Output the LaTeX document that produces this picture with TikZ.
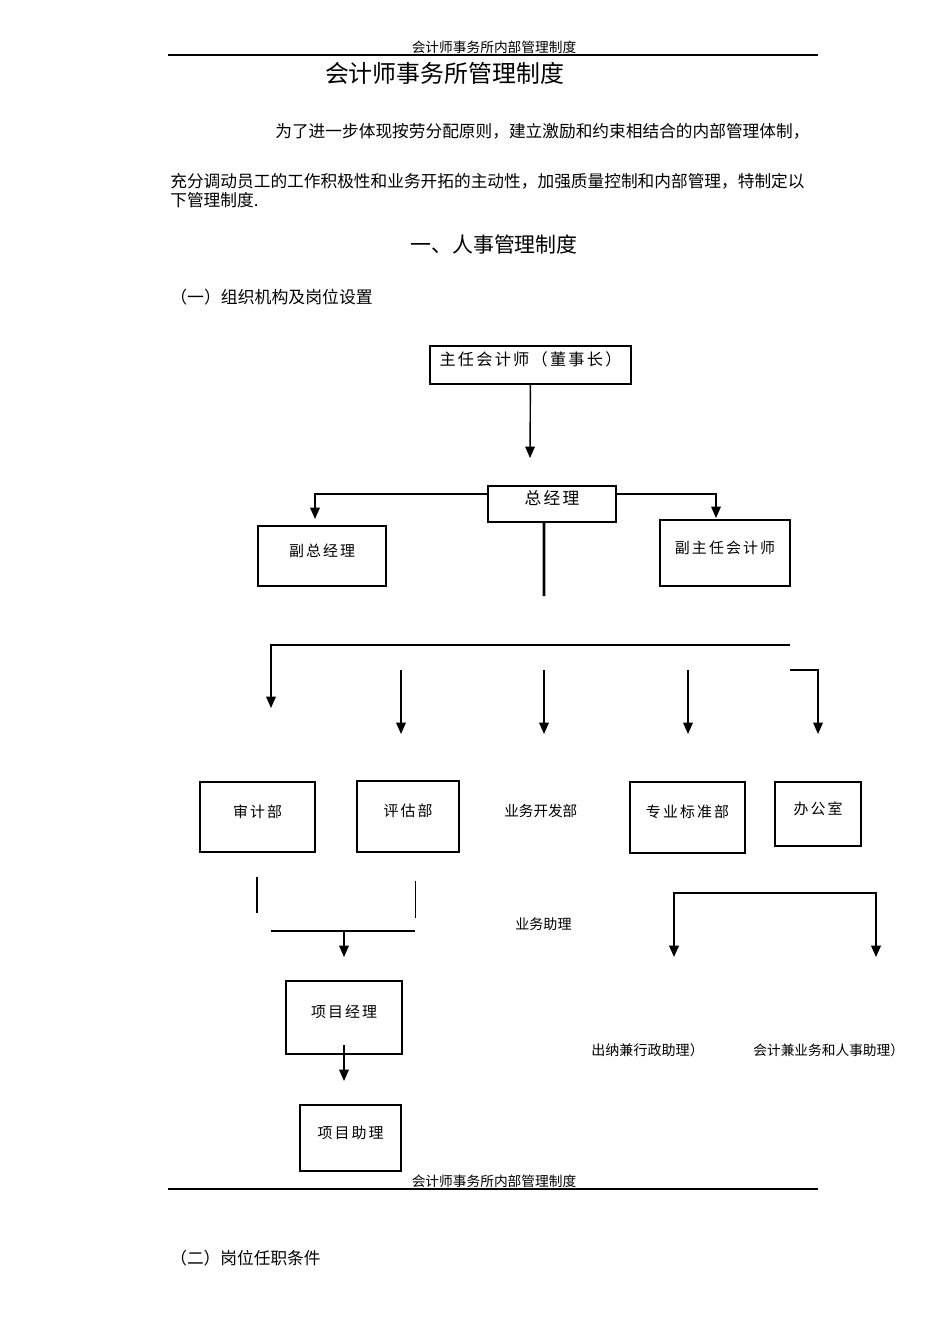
\documentclass[tikz,border=0pt]{standalone}
\usepackage{fontspec}
\setmainfont{Noto Sans CJK SC}
\newfontfamily\cjk{Noto Sans CJK SC}
\newfontfamily\cjkwide[LetterSpace=14]{Noto Sans CJK SC}
\usetikzlibrary{arrows.meta}

\begin{document}
\begin{tikzpicture}[x=0.02cm,y=-0.02cm,
  orgbox/.style={draw,line width=0.8pt,inner sep=0pt,font=\cjkwide\fontsize{8.5}{10}\selectfont,text depth=7pt},
  arr/.style={-{Triangle[length=6.5pt,width=5.5pt]},line width=0.8pt},
  arrtwo/.style={{Triangle[length=6.5pt,width=5.5pt]}-{Triangle[length=6.5pt,width=5.5pt]},line width=1.1pt},
  plain/.style={font=\cjk\fontsize{8}{10}\selectfont,inner sep=0pt,anchor=west},
  body/.style={font=\cjk\fontsize{9.5}{11}\selectfont,inner sep=0pt,anchor=west},
  rule/.style={line width=0.6pt}]
\useasboundingbox (0,0) rectangle (950,1344);
\fill[white] (0,0) rectangle (950,1344);
% page header
\node[font=\cjk\fontsize{7.8}{9}\selectfont,inner sep=0pt] (headT) at (494,47) {会计师事务所内部管理制度};
\coordinate (headL) at (168,55); \coordinate (headR) at (818,55);
\draw[rule] (headL) -- (headR);
% title and text
\node[font=\cjk\fontsize{13.6}{15}\selectfont,inner sep=0pt] (title) at (444.5,73) {会计师事务所管理制度};
\node[body] (par1) at (275,131) {为了进一步体现按劳分配原则，建立激励和约束相结合的内部管理体制，};
\node[body] (par2) at (170,181) {充分调动员工的工作积极性和业务开拓的主动性，加强质量控制和内部管理，特制定以};
\node[body] (par3) at (170,200) {下管理制度.};
\node[font=\cjk\fontsize{11.9}{13}\selectfont,inner sep=0pt] (sec1) at (494,245) {一、人事管理制度};
\node[body,font=\cjk\fontsize{9.6}{11}\selectfont] (sub1) at (170,297) {（一）组织机构及岗位设置};
% chart boxes
\node[orgbox,minimum width=4.02cm,minimum height=0.76cm,font=\cjkwide\fontsize{9.2}{10}\selectfont] (chief) at (530.5,365) {主任会计师（董事长）};
\node[orgbox,minimum width=2.56cm,minimum height=0.72cm,font=\cjkwide\fontsize{9.5}{10}\selectfont] (gm) at (552,504) {总经理};
\node[orgbox,minimum width=2.56cm,minimum height=1.2cm] (dgm) at (322,556) {副总经理};
\node[orgbox,minimum width=2.6cm,minimum height=1.32cm] (dca) at (725,553) {副主任会计师};
\node[orgbox,minimum width=2.3cm,minimum height=1.4cm] (audit) at (257.5,817) {审计部};
\node[orgbox,minimum width=2.04cm,minimum height=1.42cm] (evalu) at (408,816.5) {评估部};
\node[plain,font=\cjk\fontsize{8.3}{10}\selectfont] (bizdev) at (504,811) {业务开发部};
\node[orgbox,minimum width=2.3cm,minimum height=1.42cm] (stdd) at (687.5,817.5) {专业标准部};
\node[orgbox,minimum width=1.72cm,minimum height=1.28cm] (office) at (818,814) {办公室};
\node[plain] (bizasst) at (515,924) {业务助理};
\node[orgbox,minimum width=2.32cm,minimum height=1.46cm] (pm) at (344,1017.5) {项目经理};
\node[orgbox,minimum width=2.02cm,minimum height=1.32cm] (pa) at (350.5,1138) {项目助理};
\node[plain] (cashier) at (591,1050) {出纳兼行政助理）};
\node[plain,font=\cjk\fontsize{7.8}{10}\selectfont] (acct) at (753,1050) {会计兼业务和人事助理）};
% connectors
\coordinate (gmIn) at (530,458);
\draw[arr] (chief) -- (gmIn);
\coordinate (dgmIn) at (315,519); \coordinate (dcaIn) at (716,518);
\draw[arr] ([yshift=0.2cm]gm.west) -| (dgmIn);
\draw[arr] ([yshift=0.2cm]gm.east) -| (dcaIn);
\coordinate (trunk) at (544,596);
\draw[line width=1.6pt] ([xshift=-0.16cm]gm.south) -- (trunk);
\coordinate (busL) at (271,645); \coordinate (busR) at (790,645); \coordinate (auditIn) at (271,708);
\draw[arr] (busR) -- (busL) -- (auditIn);
\foreach \x/\n in {401/evalu,544/bizdev,688/stdd} {
  \coordinate (\n Top) at (\x,670); \coordinate (\n In) at (\x,734);
  \draw[arr] (\n Top) -- (\n In);
}
\coordinate (officeTop) at (790,670); \coordinate (officeIn) at (818,734);
\draw[arr] (officeTop) -| (officeIn);
% below departments
\coordinate (auditTail) at (257,877); \coordinate (auditEnd) at (257,913);
\draw[line width=1.6pt] (auditTail) -- (auditEnd);
\coordinate (evaluTail) at (415,881); \coordinate (evaluEnd) at (415,918);
\draw[line width=0.5pt] (evaluTail) -- (evaluEnd);
\coordinate (mergeL) at (271,931); \coordinate (mergeR) at (415,931);
\draw[rule] (mergeL) -- (mergeR);
\coordinate (mergeM) at (344,931); \coordinate (pmIn) at (344,957);
\draw[arr] (mergeM) -- (pmIn);
\coordinate (cashIn) at (674,957); \coordinate (acctIn) at (876,957);
\coordinate (bkL) at (674,893); \coordinate (bkR) at (876,893);
\draw[arrtwo] (cashIn) -- (bkL) -- (bkR) -- (acctIn);
\coordinate (paIn) at (344,1081);
\draw[arr] ([yshift=0.2cm]pm.south) -- (paIn);
% page footer
\node[font=\cjk\fontsize{7.8}{9}\selectfont,inner sep=0pt] (footT) at (494,1181) {会计师事务所内部管理制度};
\coordinate (footL) at (168,1189); \coordinate (footR) at (818,1189);
\draw[rule] (footL) -- (footR);
\node[body] (sub2) at (170,1258) {（二）岗位任职条件};
\end{tikzpicture}
\end{document}
